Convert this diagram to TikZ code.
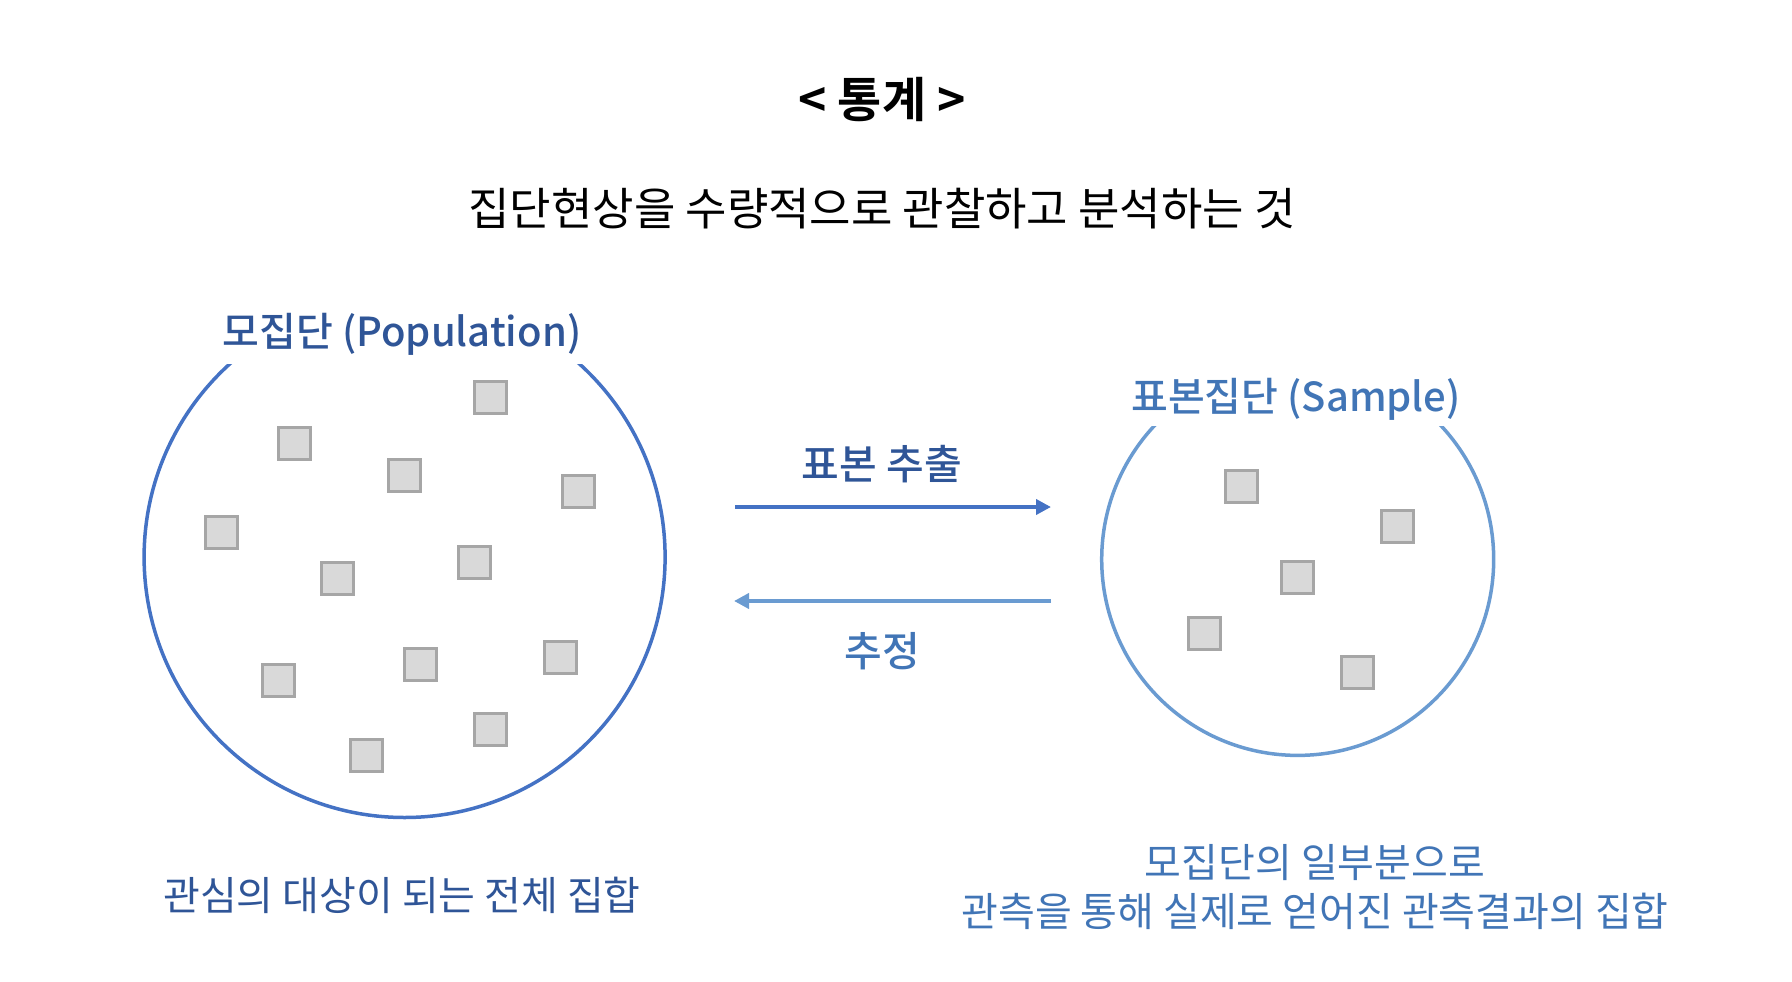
\documentclass[tikz,border=0pt]{standalone}
\usepackage{fontspec}
\usetikzlibrary{arrows.meta}
\setmainfont{Noto Sans CJK KR}[BoldFont={Noto Sans CJK KR Bold}]
\newfontfamily\medfont{Noto Sans CJK KR Medium}
\definecolor{darkblue}{HTML}{2F5597}
\definecolor{midblue}{HTML}{4472C4}
\definecolor{lightblue}{HTML}{6A9BD1}
\definecolor{textlight}{HTML}{4175B6}
\definecolor{sqfill}{HTML}{D9D9D9}
\definecolor{sqdraw}{HTML}{A6A6A6}
\begin{document}
\begin{tikzpicture}[x=1pt,y=-1pt,
  sq/.style={draw=sqdraw,fill=sqfill,line width=3pt,minimum size=32pt,inner sep=0pt},
  popcircle/.style={circle,draw=midblue,line width=3.5pt,inner sep=0pt},
  sampcircle/.style={circle,draw=lightblue,line width=3.5pt,inner sep=0pt},
  setlabel/.style={inner sep=0pt,font=\medfont\fontsize{40}{44}\selectfont},
  arrowlabel/.style={font=\medfont\fontsize{41}{44}\selectfont},
  caption/.style={font=\fontsize{40}{50}\selectfont,align=center},
  arr/.style={line width=4pt,-{Triangle[length=15pt,width=15pt]}}
]
\useasboundingbox (0,0) rectangle (1792,982);
\node (title) at (882,100) {\bfseries\fontsize{48}{52}\selectfont < 통계 >};
\node (sub) at (882,209) {\fontsize{45}{50}\selectfont 집단현상을 수량적으로 관찰하고 분석하는 것};
% circles
\node[popcircle,minimum size=521pt] (pop) at (404.6,557) {};
\node[sampcircle,minimum size=392pt] (samp) at (1297.7,559.4) {};
% white masks where the labels interrupt the circles
\fill[white] (217,286) rectangle (587,364);
\fill[white] (1126,356) rectangle (1466,426);
\node[setlabel,text=darkblue] (poplab) at (402,334) {모집단 (Population)};
\node[setlabel,text=textlight] (samplab) at (1296,399) {표본집단 (Sample)};
% squares left
\foreach \i/\x/\y in {1/490.3/397.7,2/294.9/443.4,3/404.6/475.4,4/578.3/491.4,5/221.7/532.6,6/337.1/578.3,7/474.3/562.3,8/278.9/680.0,9/420.6/664.0,10/560.0/657.1,11/490.3/729.1,12/366.9/755.4}
  \node[sq] (p\i) at (\x,\y) {};
\foreach \i/\x/\y in {1/1241.1/486.9,2/1397.7/526.9,3/1297.1/577.1,4/1204.6/633.1,5/1357.7/672.0}
  \node[sq] (s\i) at (\x,\y) {};
% arrows
\coordinate (a1s) at (735,507);
\coordinate (a1e) at (1051,507);
\coordinate (a2s) at (1051,601);
\coordinate (a2e) at (734,601);
\draw[arr,draw=midblue,fill=midblue] (a1s) -- (a1e);
\draw[arr,draw=lightblue,fill=lightblue] (a2s) -- (a2e);
\node[arrowlabel,text=darkblue] (ext) at (882,464) {표본 추출};
\node[arrowlabel,text=textlight] (est) at (882,651) {추정};
% captions
\node[caption,text=darkblue] (popcap) at (402,895) {관심의 대상이 되는 전체 집합};
\node[caption,text=textlight] (sampcap) at (1315,887) {모집단의 일부분으로\\[-1pt]관측을 통해 실제로 얻어진 관측결과의 집합};
\end{tikzpicture}
\end{document}
